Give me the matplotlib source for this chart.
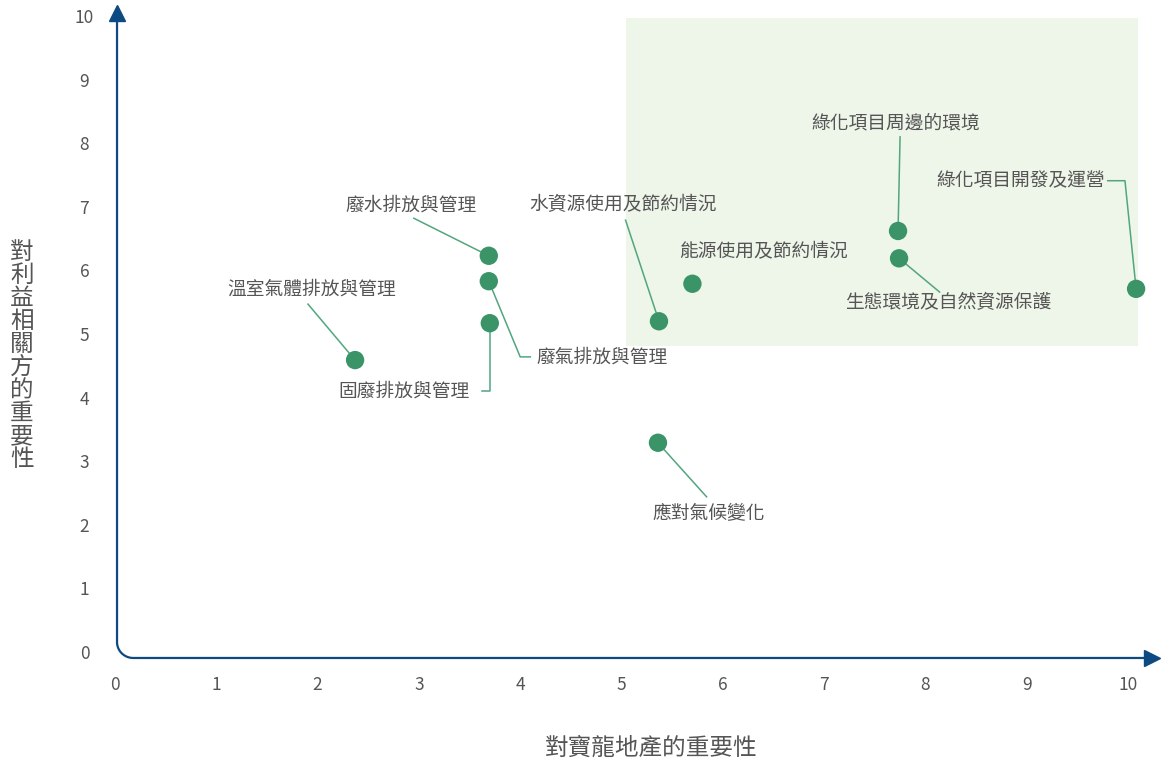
import numpy as np
import matplotlib
matplotlib.use("Agg")
import matplotlib.pyplot as plt
from matplotlib.patches import Rectangle

plt.rcParams['font.family'] = ['Noto Sans CJK TC', 'DejaVu Sans']

# topics: (name, importance to company, importance to stakeholders)
topics = ['溫室氣體排放與管理', '廢水排放與管理', '廢氣排放與管理', '固廢排放與管理',
          '水資源使用及節約情況', '能源使用及節約情況', '應對氣候變化',
          '綠化項目周邊的環境', '生態環境及自然資源保護', '綠化項目開發及運營']
x_vals = [2.37, 3.69, 3.69, 3.70, 5.37, 5.70, 5.36, 7.73, 7.74, 10.08]
y_vals = [4.59, 6.23, 5.83, 5.17, 5.20, 5.79, 3.29, 6.62, 6.19, 5.71]

x_ticks = list(range(0, 11))
y_ticks = list(range(0, 11))

# label placement: text anchor, alignment, and the bend points of the leader line
label_pos = [(1.945, 5.71), (2.92, 7.03), (4.16, 4.64), (3.50, 4.10),
             (5.02, 7.03), (6.40, 6.29), (5.86, 2.17),
             (7.71, 8.32), (8.22, 5.49), (9.77, 7.41)]
label_ha = ['center', 'center', 'left', 'right', 'center', 'center', 'center',
            'center', 'center', 'right']
leaders = [[(1.905, 5.47)], [(2.95, 6.82)], [(4.00, 4.64), (4.10, 4.64)],
           [(None, 4.10), (3.62, 4.10)], [(5.04, 6.79)], [], [(5.84, 2.44)],
           [(7.75, 8.10)], [(8.14, 5.66)], [(9.97, 7.41), (9.80, 7.41)]]

AXIS_C = '#0D4A82'
DOT_C = '#3B9468'
LINE_C = '#52A67E'
TEXT_C = '#555555'

fig = plt.figure(figsize=(11.62, 7.67), dpi=100)
ax = fig.add_axes([115 / 1162, 115 / 767, 1013 / 1162, 636 / 767])
ax.set_xlim(0, 10)
ax.set_ylim(0, 10)
for s in ax.spines.values():
    s.set_visible(False)

# highlighted quadrant
ax.add_patch(Rectangle((5.04, 4.81), 5.06, 5.16, facecolor='#EEF5E9',
                       edgecolor='none', zorder=0, clip_on=False))

# axis lines with a rounded corner at the origin
x0, y0 = 0.02, -0.094
rx, ry = 0.16, 0.25
t = np.linspace(np.pi, 1.5 * np.pi, 20)
arc_x = x0 + rx + rx * np.cos(t)
arc_y = y0 + ry + ry * np.sin(t)
ax_x = np.concatenate([[x0], arc_x, [10.22]])
ax_y = np.concatenate([[10.02], arc_y, [y0]])
ax.plot(ax_x, ax_y, color=AXIS_C, lw=1.6, clip_on=False, zorder=2,
        solid_capstyle='butt')
ax.plot([x0], [10.05], marker='^', ms=11, color=AXIS_C, clip_on=False, zorder=2)
ax.plot([10.24], [y0], marker='>', ms=11, color=AXIS_C, clip_on=False, zorder=2)

ax.set_xticks(x_ticks)
ax.set_yticks(y_ticks)
ax.tick_params(length=0, labelsize=12.5, labelcolor=TEXT_C)
ax.tick_params(axis='x', pad=17)
ax.tick_params(axis='y', pad=22)
for lab in ax.get_yticklabels():
    lab.set_ha('center')

# leader lines and labels
for i, name in enumerate(topics):
    px, py = x_vals[i], y_vals[i]
    lx, ly = [px], [py]
    for bx, by in leaders[i]:
        lx.append(px if bx is None else bx)
        ly.append(by)
    if len(lx) > 1:
        ax.plot(lx, ly, color=LINE_C, lw=1.1, zorder=3, clip_on=False)
    tx, ty = label_pos[i]
    ax.text(tx, ty, name, ha=label_ha[i], va='center', fontsize=13.5,
            color=TEXT_C, zorder=5)

ax.scatter(x_vals, y_vals, s=175, color=DOT_C, zorder=4, clip_on=False,
           edgecolors='none')

fig.text(651 / 1162, 1 - 748 / 767, '對寶龍地產的重要性', ha='center', va='center',
         fontsize=17, color=TEXT_C)
fig.text(22 / 1162, 1 - 356 / 767, '\n'.join('對利益相關方的重要性'), ha='center',
         va='center', fontsize=17, color=TEXT_C, linespacing=1.0)

fig.savefig('out.png', dpi=100)
